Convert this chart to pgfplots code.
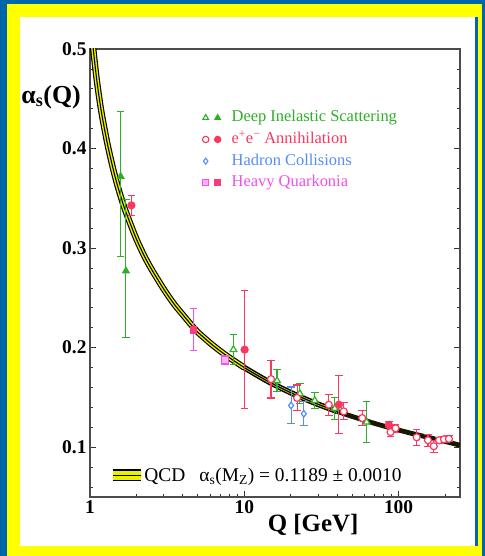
\documentclass[border=0pt]{standalone}
\usepackage{pgfplots}
\usepackage{pgfplotstable}
\pgfplotsset{compat=1.18}
\usepackage{fontspec}
\setmainfont{Liberation Serif}
\definecolor{bgblue}{RGB}{0,102,170}
\definecolor{frameyel}{RGB}{255,255,0}
\definecolor{dis}{RGB}{45,175,40}
\definecolor{ee}{RGB}{250,55,95}
\definecolor{had}{RGB}{85,140,250}
\definecolor{qk}{RGB}{240,80,235}
\definecolor{qkfill}{RGB}{250,60,125}
\definecolor{bandyel}{RGB}{235,240,0}

\pgfplotstableread{
Q a
1.03 0.515
1.05 0.500
1.10 0.472
1.15 0.450
1.20 0.432
1.30 0.404
1.40 0.382
1.50 0.364
1.65 0.343
1.80 0.327
2.00 0.309
2.25 0.292
2.50 0.279
3.00 0.259
3.50 0.244
4.00 0.233
4.70 0.220
5.00 0.2155
6.00 0.2047
7.00 0.1965
8.00 0.1900
10.0 0.1800
12.5 0.1711
15.0 0.1643
20.0 0.1548
25.0 0.1482
30.0 0.1432
40.0 0.1360
50.0 0.1309
70.0 0.1239
91.19 0.1189
120 0.1141
150 0.1105
200 0.1058
250 0.1020
}\qcd

\begin{document}
\begin{tikzpicture}
\useasboundingbox (0bp,0bp) rectangle (485bp,556bp);
\fill[bgblue] (0bp,0bp) rectangle (485bp,556bp);
\fill[frameyel] (7bp,0bp) rectangle (482bp,552bp);
\fill[bgblue] (475bp,10bp) rectangle (478bp,539bp);
\fill[white] (20bp,10bp) rectangle (475bp,539bp);

\begin{axis}[
  at={(90bp,59bp)}, anchor=south west,
  width=370bp, height=448bp, scale only axis,
  xmode=log, xmin=1, xmax=250, ymin=0.05, ymax=0.5,
  xtick={1,10,100}, xticklabels={1,10,100},
  minor xtick={2,3,4,5,6,7,8,9,20,30,40,50,60,70,80,90,200},
  ytick={0.1,0.2,0.3,0.4,0.5}, yticklabels={0.1,0.2,0.3,0.4,0.5},
  minor ytick={0.06,0.08,0.12,0.14,0.16,0.18,0.22,0.24,0.26,0.28,0.32,0.34,0.36,0.38,0.42,0.44,0.46,0.48},
  tick align=inside, xtick pos=left, ytick pos=both,
  major tick length=6bp, minor tick length=3.5bp,
  axis line style={black!70, line width=1.3bp},
  tick style={black!80, line width=0.8bp},
  ticklabel style={font=\bfseries\fontsize{19.5}{20}\selectfont},
  xlabel={\bfseries Q [GeV]},
  xlabel style={font=\fontsize{25}{26}\selectfont, at={(axis description cs:0.603,-0.0625)}, anchor=center},
  ylabel={\bfseries α\textsubscript{s}(Q)},
  ylabel style={font=\fontsize{26}{27}\selectfont, rotate=-90, at={(axis description cs:-0.105,0.893)}, anchor=center},
  legend style={at={(axis description cs:0.300,0.867)}, anchor=north west, draw=none, fill=none, inner sep=0pt,
    row sep=3.7bp, font=\fontsize{16.5}{18}\selectfont,
    nodes={inner sep=1bp, text height=12bp, text depth=4bp}},
  legend cell align=left,
  ebar/.style={error bars/.cd, y dir=both, y explicit,
    error bar style={line width=1.1bp, solid},
    error mark=-,
    error mark options={rotate=90, mark size=3.8bp, line width=1.1bp, solid}},
  band/.style={line join=round, smooth, forget plot},
]
% QCD band: low-Q part (wide, yellow stripes)
\addplot[black, line width=6.3bp, band, skip coords between index={22}{35}] table[x=Q,y=a] {\qcd};
\addplot[black, line width=5.6bp, band, skip coords between index={0}{21}, skip coords between index={28}{35}] table[x=Q,y=a] {\qcd};
\addplot[black!90!bandyel, line width=4.8bp, band, skip coords between index={0}{27}] table[x=Q,y=a] {\qcd};
\addplot[bandyel, line width=4bp, band, skip coords between index={22}{35}] table[x=Q,y=a] {\qcd};
\addplot[bandyel!80!black, line width=2.8bp, band, skip coords between index={0}{21}, skip coords between index={28}{35}] table[x=Q,y=a] {\qcd};
\addplot[black, line width=1.1bp, band, skip coords between index={28}{35}] table[x=Q,y=a] {\qcd};

% Deep inelastic scattering, filled
\addplot[forget plot, dis, only marks, mark=triangle*, mark size=3.9bp, mark options={fill=dis, line width=1bp}, ebar]
coordinates {
(1.58,0.372) += (0,0.065) -= (0,0.080)
(1.71,0.277) += (0,0.072) -= (0,0.067)
};
% DIS open
\addplot[forget plot, dis, only marks, mark=triangle*, mark size=3.9bp, mark options={fill=white, line width=1.2bp}, ebar]
coordinates {
(8.5,0.198) +- (0,0.015)
(16.3,0.1667) +- (0,0.011)
(22.9,0.1538) +- (0,0.010)
(28.6,0.1470) +- (0,0.008)
(38.6,0.1390) +- (0,0.011)
(62.0,0.1253) +- (0,0.021)
};
% e+e- filled
\addplot[forget plot, ee, only marks, mark=*, mark size=3.6bp, mark options={fill=ee, line width=1bp}, ebar]
coordinates {
(1.855,0.343) +- (0,0.010)
(10.05,0.198) +- (0,0.059)
(41.0,0.1427) +- (0,0.029)
(86.5,0.1225) +- (0,0.003)
};
% e+e- open
\addplot[forget plot, ee, only marks, mark=*, mark size=3.5bp, mark options={fill=white, line width=1.2bp}, ebar]
coordinates {
(14.9,0.1684) +- (0,0.019)
(22.0,0.1495) +- (0,0.013)
(35.3,0.1427) +- (0,0.0105)
(44.1,0.1360) +- (0,0.0085)
(58.1,0.1293) +- (0,0.0075)
(88.7,0.1152) +- (0,0.004)
(95.6,0.1190) +- (0,0.004)
(131,0.1100) +- (0,0.008)
(155,0.1070) +- (0,0.006)
(169,0.1010) +- (0,0.006)
(183,0.1070) +- (0,0.003)
(197,0.1080) +- (0,0.003)
(212,0.1084) +- (0,0.003)
};
% Hadron collisions
\addplot[forget plot, had, only marks, mark=diamond*, mark size=3.3bp, mark options={fill=white, line width=1.2bp}, ebar]
coordinates {
(20.1,0.1420) +- (0,0.0185)
(24.3,0.1336) +- (0,0.012)
};
% Heavy quarkonia
\addplot[forget plot, qk, only marks, mark=square*, mark size=3.3bp, mark options={fill=qkfill, draw=qkfill, line width=1bp}, ebar]
coordinates {
(4.69,0.218) +- (0,0.021)
};
\addplot[forget plot, qk, only marks, mark=square*, mark size=3.3bp, mark options={fill=qk!45, line width=1.1bp}, ebar]
coordinates {
(7.52,0.1876) +- (0,0.004)
};

\addlegendimage{legend image code/.code={
  \path[draw=none, fill=none] (-4.5bp,-5bp) rectangle (25bp,5bp);
  \path[draw=dis, fill=white, line width=1.1bp] plot[only marks, mark=triangle*, mark size=3.3bp] coordinates {(0bp,0bp)};
  \path[draw=dis, fill=dis, line width=1bp] plot[only marks, mark=triangle*, mark size=3.3bp] coordinates {(12bp,0bp)};}}
\addlegendentry{\textcolor{dis}{Deep Inelastic Scattering}}
\addlegendimage{legend image code/.code={
  \path[draw=none, fill=none] (-4.5bp,-5bp) rectangle (25bp,5bp);
  \path[draw=ee, fill=white, line width=1.1bp] plot[only marks, mark=*, mark size=3.2bp] coordinates {(0bp,0bp)};
  \path[draw=ee, fill=ee, line width=1bp] plot[only marks, mark=*, mark size=3.2bp] coordinates {(12bp,0bp)};}}
\addlegendentry{\textcolor{ee}{e\textsuperscript{+}e\textsuperscript{−} Annihilation}}
\addlegendimage{legend image code/.code={
  \path[draw=none, fill=none] (-4.5bp,-5bp) rectangle (25bp,5bp);
  \path[draw=had, fill=white, line width=1.1bp] plot[only marks, mark=diamond*, mark size=3bp] coordinates {(0bp,0bp)};}}
\addlegendentry{\textcolor{had}{Hadron Collisions}}
\addlegendimage{legend image code/.code={
  \path[draw=none, fill=none] (-4.5bp,-5bp) rectangle (25bp,5bp);
  \path[draw=qk, fill=qk!45, line width=1.1bp] plot[only marks, mark=square*, mark size=3bp] coordinates {(0bp,0bp)};
  \path[draw=qkfill, fill=qkfill, line width=1bp] plot[only marks, mark=square*, mark size=3bp] coordinates {(12bp,0bp)};}}
\addlegendentry{\textcolor{qk}{Heavy Quarkonia}}
\end{axis}

\begin{axis}[
  at={(90bp,59bp)}, anchor=south west,
  width=370bp, height=448bp, scale only axis,
  hide axis, xmin=0, xmax=1, ymin=0, ymax=1,
  legend style={at={(axis description cs:0.062,0.049)}, anchor=west, draw=none, fill=none, inner sep=0pt,
    font=\fontsize{19.5}{21}\selectfont, nodes={inner sep=1bp}},
]
\addlegendimage{legend image code/.code={
  \path[draw=none, fill=none] (0bp,-6bp) rectangle (30bp,6bp);
  \fill[black] (0bp,-5.5bp) rectangle (27bp,5.5bp);
  \fill[bandyel] (0bp,-4bp) rectangle (27bp,-1bp);
  \fill[bandyel] (0bp,1bp) rectangle (27bp,4bp);}}
\addlegendentry{QCD\hspace{14bp}α\textsubscript{s}(M\textsubscript{Z}) = 0.1189 ± 0.0010}
\end{axis}
\end{tikzpicture}
\end{document}
